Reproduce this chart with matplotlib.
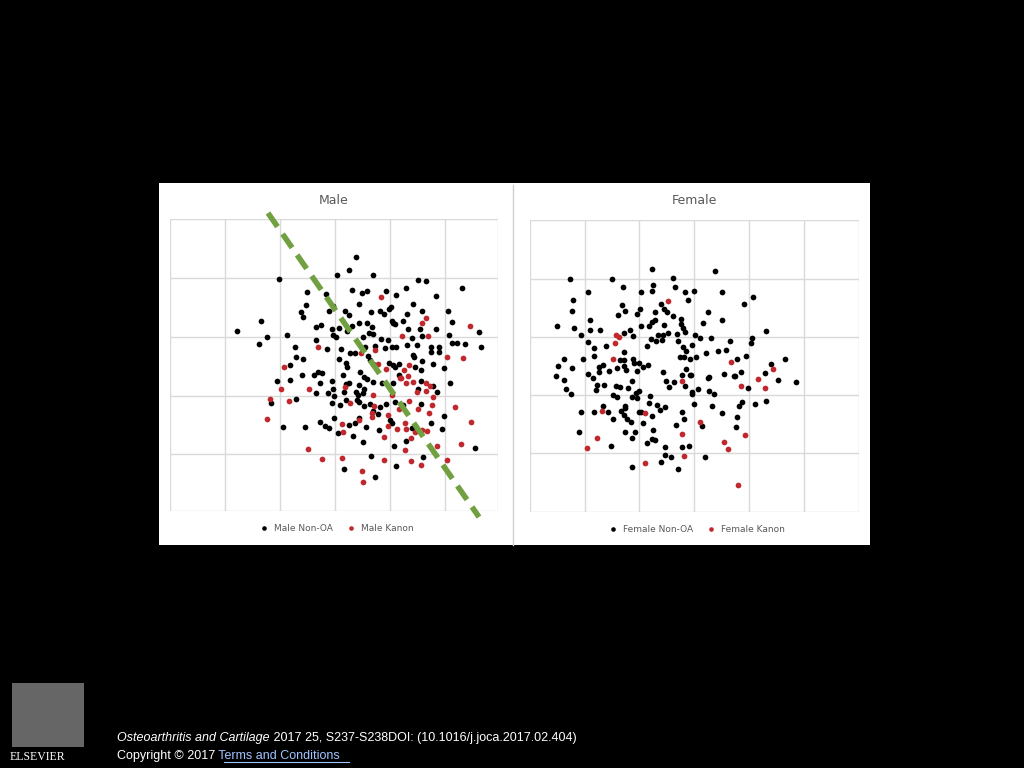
import numpy as np
import matplotlib
matplotlib.use("Agg")
import matplotlib.pyplot as plt
from matplotlib.patches import Rectangle

# Points (image-pixel units of each panel)
male_nonoa = [(356,257),(349,270),(337,275),(373,275),(279,279),(418,280),(426,281),(462,288),(352,290),(367,291),
(386,291),(406,288),(307,292),(326,294),(362,293),(396,295),(436,296),(413,304),(359,304),(391,307),(306,305),(389,309),
(333,306),(301,312),(303,317),(329,311),(345,311),(371,312),(380,311),(384,314),(407,314),(422,311),(448,311),(261,321),
(349,315),(392,321),(393,323),(403,321),(452,322),(359,323),(367,323),(316,327),(321,325),(372,327),(352,326),(332,329),
(339,328),(347,331),(395,324),(408,329),(420,329),(436,329),(237,331),(267,337),(287,335),(259,344),(333,335),(336,337),
(363,337),(369,333),(373,334),(381,339),(388,340),(412,338),(422,336),(449,335),(479,332),(316,340),(295,347),(327,349),
(341,349),(350,353),(355,353),(365,347),(375,346),(385,348),(392,347),(396,347),(407,345),(417,345),(431,347),(439,347),
(431,352),(439,352),(452,343),(457,343),(465,344),(481,347),(296,357),(303,359),(290,365),(339,359),(346,363),(347,367),
(368,356),(370,360),(373,364),(389,363),(393,365),(399,364),(413,355),(414,357),(422,361),(433,364),(444,368),(415,367),
(421,370),(395,367),(302,375),(314,375),(318,372),(322,373),(343,375),(360,372),(277,381),(290,380),(320,383),(332,381),
(346,384),(349,383),(359,385),(364,377),(367,379),(373,382),(382,383),(393,383),(399,375),(421,381),(433,386),(450,383),
(316,393),(328,393),(333,389),(334,396),(344,392),(346,400),(356,392),(358,395),(364,389),(363,393),(357,400),(359,402),
(370,404),(364,406),(380,407),(386,404),(395,402),(403,405),(421,404),(418,389),(437,392),(296,399),(271,403),(332,403),
(340,405),(373,411),(378,414),(334,418),(320,422),(325,426),(329,428),(283,427),(305,427),(349,425),(355,423),(359,418),
(366,427),(390,420),(392,423),(379,430),(431,423),(444,416),(442,429),(338,433),(353,436),(363,442),(406,441),(412,428),
(394,446),(371,456),(423,457),(396,466),(344,469),(375,477),(475,448)]
male_kanon = [(381,297),(426,318),(422,323),(470,326),(402,336),(428,336),(318,347),(361,353),(375,350),(447,357),
(463,358),(378,364),(386,369),(409,365),(404,370),(408,376),(400,378),(284,367),(270,399),(267,419),(281,389),(289,401),
(309,389),(345,387),(350,403),(373,395),(374,406),(372,413),(372,417),(388,415),(392,395),(401,378),(406,383),(413,382),
(426,383),(430,386),(426,391),(417,392),(433,397),(409,401),(399,409),(418,409),(432,405),(429,413),(455,407),(342,424),
(343,432),(359,420),(388,426),(397,429),(405,423),(406,429),(415,432),(422,430),(427,431),(411,438),(384,437),(437,446),
(461,444),(471,422),(308,449),(322,459),(342,458),(384,460),(405,450),(411,461),(421,465),(447,460),(362,471),(363,482)]
female_nonoa = [(570,279),(612,279),(652,269),(673,278),(715,271),(588,292),(623,287),(641,292),(652,291),(653,285),
(675,287),(685,292),(694,291),(688,300),(722,292),(753,297),(744,304),(573,300),(572,311),(622,305),(625,311),(618,315),
(640,309),(637,314),(661,304),(664,309),(667,312),(655,312),(673,316),(681,319),(681,324),(708,312),(703,323),(722,320),
(557,326),(574,328),(590,320),(590,330),(600,330),(581,335),(624,333),(630,330),(633,336),(641,326),(649,326),(652,322),
(655,320),(664,325),(658,335),(663,335),(668,333),(677,334),(683,328),(685,332),(695,335),(700,338),(711,338),(766,331),
(752,338),(751,343),(588,342),(594,348),(606,346),(594,356),(624,352),(651,339),(656,341),(647,346),(662,340),(678,341),
(683,347),(692,345),(686,351),(680,357),(684,357),(690,359),(696,357),(706,353),(718,351),(726,350),(730,341),(737,359),
(746,356),(785,359),(771,364),(564,359),(583,359),(558,366),(572,368),(599,367),(603,365),(588,374),(599,372),(609,371),
(617,368),(624,366),(620,360),(624,360),(633,359),(634,363),(639,363),(648,365),(643,367),(626,370),(637,371),(663,372),
(682,375),(686,369),(691,375),(708,378),(724,374),(735,376),(741,372),(765,373),(556,376),(564,380),(566,389),(571,394),
(593,378),(597,385),(596,390),(604,385),(613,395),(616,386),(620,387),(617,397),(628,388),(632,381),(632,397),(636,393),
(639,391),(637,398),(650,396),(649,403),(657,405),(660,410),(665,407),(603,406),(625,406),(625,408),(621,411),(624,415),
(627,419),(631,422),(639,412),(641,412),(652,416),(643,423),(594,412),(608,412),(613,419),(581,412),(666,381),(669,387),
(674,382),(685,386),(690,375),(692,392),(692,394),(698,389),(709,377),(709,391),(714,394),(734,376),(748,388),(778,380),
(796,382),(694,404),(712,406),(722,413),(739,406),(742,402),(755,404),(766,401),(737,417),(736,427),(682,412),(684,419),
(676,425),(702,426),(653,430),(625,432),(635,432),(632,438),(647,443),(652,439),(655,440),(579,432),(611,446),(665,447),
(665,455),(671,457),(661,462),(682,447),(689,446),(705,457),(632,467),(678,469)]
female_kanon = [(668,301),(616,335),(619,337),(615,343),(613,359),(731,362),(773,369),(758,379),(602,411),(597,438),
(587,448),(645,413),(682,381),(700,422),(682,434),(684,456),(645,463),(724,442),(728,449),(745,435),(741,386),(765,388),
(738,485)]
male_grid_x = [170,225,280,335,390,445,498]
male_grid_y = [219,278,337,396,454,511]
female_grid_x = [530,585,639,694,749,804,859]
female_grid_y = [220,279,337,395,453,512]
trend_line = [(268,213),(479,517)]

W, H = 1024, 768
fig = plt.figure(figsize=(10.24, 7.68), dpi=100, facecolor='black')

bg = fig.add_axes([0, 0, 1, 1]); bg.set_xlim(0, W); bg.set_ylim(H, 0); bg.axis('off')
bg.add_patch(Rectangle((159, 183), 711, 362, facecolor='white', edgecolor='none'))
bg.plot([513, 513], [185, 545], color='#d0d0d0', lw=1)

def panel(gx, gy, black, red, title, leg):
    ax = fig.add_axes([gx[0]/W, 1-gy[-1]/H, (gx[-1]-gx[0])/W, (gy[-1]-gy[0])/H])
    ax.set_xlim(gx[0], gx[-1]); ax.set_ylim(gy[-1], gy[0])
    for v in gx: ax.axvline(v, color='#d9d9d9', lw=1, zorder=0)
    for v in gy: ax.axhline(v, color='#d9d9d9', lw=1, zorder=0)
    ax.set_xticks([]); ax.set_yticks([])
    for s in ax.spines.values(): s.set_visible(False)
    b = np.array(black); r = np.array(red)
    ax.scatter(b[:, 0], b[:, 1], s=17, color='black', lw=0, label=leg[0], zorder=3)
    ax.scatter(r[:, 0], r[:, 1], s=17, color='#c0282d', lw=0, label=leg[1], zorder=3)
    cx = (gx[0]+gx[-1])/2
    bg.text(cx, 200, title, ha='center', va='center', fontsize=9, color='#595959')
    ax.legend(loc='upper center', bbox_to_anchor=(0.5, -0.015), ncol=2, frameon=False,
              fontsize=6.5, labelcolor='#595959', handletextpad=0.1, columnspacing=1.0,
              markerscale=0.8)
    return ax

axm = panel(male_grid_x, male_grid_y, male_nonoa, male_kanon, 'Male', ('Male Non-OA', 'Male Kanon'))
panel(female_grid_x, female_grid_y, female_nonoa, female_kanon, 'Female', ('Female Non-OA', 'Female Kanon'))

tl = np.array(trend_line)
axm.plot(tl[:, 0], tl[:, 1], color='#70a040', lw=4, ls=(0, (3, 1.6)), clip_on=False, zorder=4)

ff = 'Liberation Sans'
t1 = bg.text(117, 738, 'Osteoarthritis and Cartilage', fontsize=9, color='white', style='italic', va='center', family=ff)
bg.annotate(' 2017 25, S237-S238DOI: (10.1016/j.joca.2017.02.404)', xy=(1, 0.5), xycoords=t1,
            fontsize=9, color='white', va='center', ha='left', family=ff)
t2 = bg.text(117, 756, 'Copyright © 2017', fontsize=9, color='white', va='center', family=ff)
t3 = bg.annotate(' Terms and Conditions', xy=(1, 0.5), xycoords=t2, fontsize=9, color='#a0c4ff',
                 va='center', ha='left', family=ff)
bg.plot([224, 349], [762, 762], color='#a0c4ff', lw=0.8)
bg.text(10, 757, 'ELSEVIER', fontsize=8.5, color='white', family='Liberation Serif', va='center')
bg.add_patch(Rectangle((12, 683), 72, 64, facecolor='#666666', edgecolor='none'))

fig.savefig('out.png', dpi=100, facecolor='black')
